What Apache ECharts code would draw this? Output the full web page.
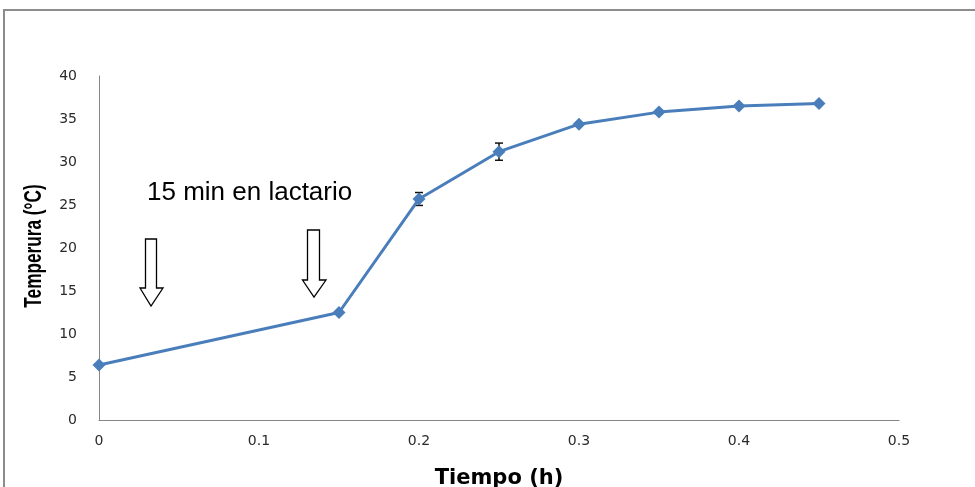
<!DOCTYPE html>
<html>
<head>
<meta charset="utf-8">
<script src="https://cdn.jsdelivr.net/npm/echarts@6/dist/echarts.min.js"></script>
<style>
html,body{margin:0;padding:0;background:#fff;}
#chart{width:975px;height:487px;}
</style>
</head>
<body>
<div id="chart"></div>
<script>
// Data
const tiempo = [0, 0.15, 0.2, 0.25, 0.3, 0.35, 0.4, 0.45];
const temperatura = [6.4, 12.5, 25.7, 31.2, 34.4, 35.8, 36.5, 36.8];
const errorTemp = [0.1, 0.1, 0.75, 1.0, 0.1, 0.2, 0.1, 0.1];
const xTicks = [0, 0.1, 0.2, 0.3, 0.4, 0.5];
const yTicks = [0, 5, 10, 15, 20, 25, 30, 35, 40];
const annotationText = '15 min en lactario';
const yAxisTitle = 'Temperura (°C)';
const xAxisTitle = 'Tiempo (h)';

const lineData = tiempo.map((t, i) => [t, temperatura[i]]);
const errData = tiempo.map((t, i) => [t, temperatura[i] - errorTemp[i], temperatura[i] + errorTemp[i]]);

const chart = echarts.init(document.getElementById('chart'));
const labelFont = {fontFamily: 'DejaVu Sans', fontSize: 14, color: '#2a2a2a'};

chart.setOption({
  animation: false,
  backgroundColor: '#fff',
  grid: {left: 99, right: 76, top: 76, bottom: 67, containLabel: false, outerBoundsMode: 'none'},
  xAxis: {
    type: 'value', min: xTicks[0], max: xTicks[xTicks.length - 1], interval: 0.1,
    axisLine: {show: true, lineStyle: {color: '#868686', width: 1}},
    axisTick: {show: false},
    splitLine: {show: false},
    axisLabel: Object.assign({margin: 14, formatter: v => String(Math.round(v * 10) / 10)}, labelFont),
    name: xAxisTitle, nameLocation: 'middle', nameGap: 48,
    nameTextStyle: {fontFamily: 'DejaVu Sans', fontWeight: 'bold', fontSize: 21, color: '#000'}
  },
  yAxis: {
    type: 'value', min: yTicks[0], max: yTicks[yTicks.length - 1], interval: 5,
    axisLine: {show: true, lineStyle: {color: '#868686', width: 1}},
    axisTick: {show: false},
    splitLine: {show: false},
    axisLabel: Object.assign({margin: 22}, labelFont)
  },
  series: [
    {
      type: 'custom',
      data: errData,
      z: 1,
      renderItem: function (params, api) {
        const x = api.value(0);
        const lo = api.coord([x, api.value(1)]);
        const hi = api.coord([x, api.value(2)]);
        const hw = 4;
        const style = {stroke: '#111', lineWidth: 1.5};
        return {
          type: 'group',
          children: [
            {type: 'line', shape: {x1: lo[0], y1: lo[1], x2: hi[0], y2: hi[1]}, style: style},
            {type: 'line', shape: {x1: lo[0] - hw, y1: lo[1], x2: lo[0] + hw, y2: lo[1]}, style: style},
            {type: 'line', shape: {x1: hi[0] - hw, y1: hi[1], x2: hi[0] + hw, y2: hi[1]}, style: style}
          ]
        };
      }
    },
    {
      type: 'line',
      data: lineData,
      symbol: 'diamond',
      symbolSize: 13,
      lineStyle: {color: '#4a7ebb', width: 3},
      itemStyle: {color: '#4a7ebb'},
      z: 2
    }
  ],
  graphic: [
    {type: 'rect', shape: {x: 4, y: 10, width: 1000, height: 520},
     style: {fill: 'none', stroke: '#8c8c8c', lineWidth: 2}, silent: true, z: -1},
    {type: 'text', x: 35, y: 246, rotation: Math.PI / 2, scaleX: 0.82, scaleY: 1.1,
     style: {text: yAxisTitle, fontFamily: 'Liberation Sans', fontWeight: 'bold', fontSize: 21, fill: '#000',
             align: 'center', verticalAlign: 'middle'}},
    {type: 'text', left: 147, top: 180,
     style: {text: annotationText, fontFamily: 'Liberation Sans', fontSize: 26, fill: '#000'}},
    {type: 'polygon',
     shape: {points: [[145.5, 239], [156.5, 239], [156.5, 288], [163, 288], [151, 306], [140, 288], [145.5, 288]]},
     style: {fill: '#fff', stroke: '#000', lineWidth: 1.3}},
    {type: 'polygon',
     shape: {points: [[307.5, 230], [319.5, 230], [319.5, 280], [326, 280], [314, 297], [302.5, 280], [307.5, 280]]},
     style: {fill: '#fff', stroke: '#000', lineWidth: 1.3}}
  ]
});
</script>
</body>
</html>
